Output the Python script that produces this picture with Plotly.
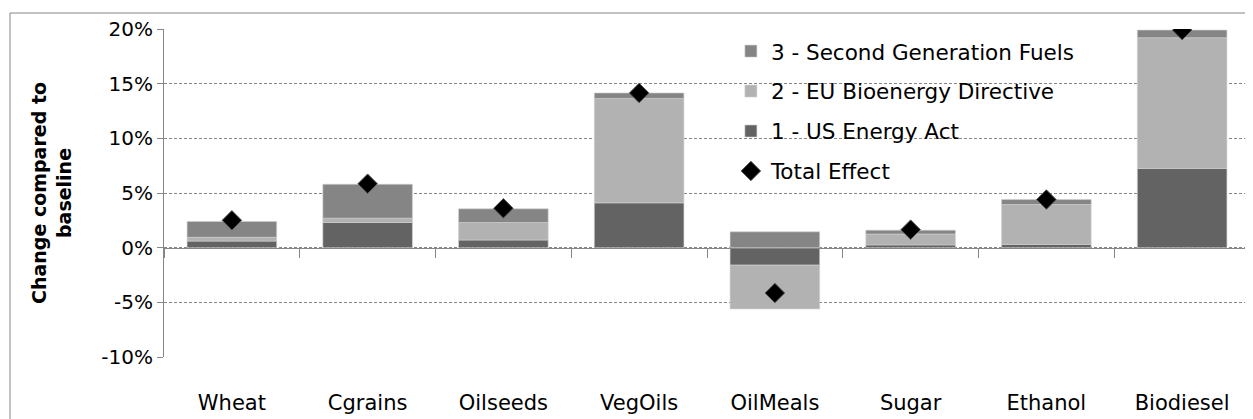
import plotly.graph_objects as go

categories = ["Wheat", "Cgrains", "Oilseeds", "VegOils", "OilMeals", "Sugar", "Ethanol", "Biodiesel"]
us_energy_act = [0.6, 2.3, 0.7, 4.1, -1.6, 0.25, 0.3, 7.25]
eu_directive = [0.35, 0.4, 1.6, 9.55, -4.0, 1.0, 3.65, 11.95]
second_gen = [1.45, 3.1, 1.25, 0.5, 1.45, 0.35, 0.45, 0.7]
total_effect = [2.5, 5.85, 3.6, 14.15, -4.15, 1.65, 4.4, 19.9]

y_ticks = [-10, -5, 0, 5, 10, 15, 20]
y_tick_labels = ["-10%", "-5%", "0%", "5%", "10%", "15%", "20%"]

# page body has an 8px margin, so the figure is sized to fit the window
W, H = 1245, 411
ml, mr, mt, mb = 156, 3, 21, 62
pw, ph = W - ml - mr, H - mt - mb
font = "DejaVu Sans"
grey = "#868686"
edge = dict(color="#d0d0d0", width=0.6)

fig = go.Figure()
fig.add_trace(go.Bar(x=categories, y=us_energy_act, name="1 - US Energy Act",
                     marker=dict(color="#636363", line=edge),
                     legendrank=3, legendgroup="a"))
fig.add_trace(go.Bar(x=categories, y=eu_directive, name="2 - EU Bioenergy Directive",
                     marker=dict(color="#b2b2b2", line=edge),
                     legendrank=2, legendgroup="b"))
fig.add_trace(go.Bar(x=categories, y=second_gen, name="3 - Second Generation Fuels",
                     marker=dict(color="#858585", line=edge),
                     legendrank=1, legendgroup="c"))
fig.add_trace(go.Scatter(x=categories, y=total_effect, name="Total Effect", mode="markers",
                         marker=dict(symbol="diamond", size=15, color="black",
                                     line=dict(color="#555555", width=1)),
                         legendrank=4, legendgroup="d"))

# helper axis drawn through zero with tick marks between categories
fig.add_trace(go.Scatter(x=[0], y=[0], xaxis="x2", mode="markers", marker=dict(opacity=0),
                         showlegend=False, hoverinfo="skip"))

zero_pos = (0 - y_ticks[0]) / (y_ticks[-1] - y_ticks[0])

fig.update_layout(
    width=W, height=H,
    margin=dict(l=ml, r=mr, t=mt, b=mb),
    paper_bgcolor="white", plot_bgcolor="white",
    barmode="relative", bargap=0.34,
    font=dict(family=font, size=20, color="black"),
    showlegend=True,
    legend=dict(x=0.522, y=0.995, xanchor="left", yanchor="top",
                bgcolor="rgba(0,0,0,0)", tracegroupgap=9,
                traceorder="grouped", font=dict(size=21.5)),
    xaxis=dict(type="category", range=[-0.5, 7.5], showline=False, showgrid=False,
               ticks="", ticklabelstandoff=31, tickfont=dict(size=21)),
    xaxis2=dict(overlaying="x", anchor="free", position=zero_pos, range=[-0.5, 7.5],
                tickmode="array", tickvals=[i - 0.5 for i in range(len(categories) + 1)],
                showticklabels=False, ticks="outside", ticklen=9, tickcolor=grey,
                showline=True, linecolor=grey, linewidth=1, showgrid=False, zeroline=False),
    yaxis=dict(range=[y_ticks[0], y_ticks[-1]], tickvals=y_ticks, ticktext=y_tick_labels,
               showgrid=True, gridcolor=grey, griddash="3px,2px", gridwidth=1,
               zeroline=False, showline=True, linecolor=grey, linewidth=1,
               ticks="outside", ticklen=6, tickcolor=grey, tickfont=dict(size=20),
               title=dict(text="<b>Change compared to<br>baseline</b>", font=dict(size=19),
                          standoff=24)),
)

fig.add_shape(type="rect", xref="paper", yref="paper",
              x0=(2 - ml) / pw, x1=1.05, y0=-0.6, y1=(H - mb - 5) / ph,
              line=dict(color=grey, width=1), fillcolor="rgba(0,0,0,0)", layer="below")

fig.write_html("out.html")
